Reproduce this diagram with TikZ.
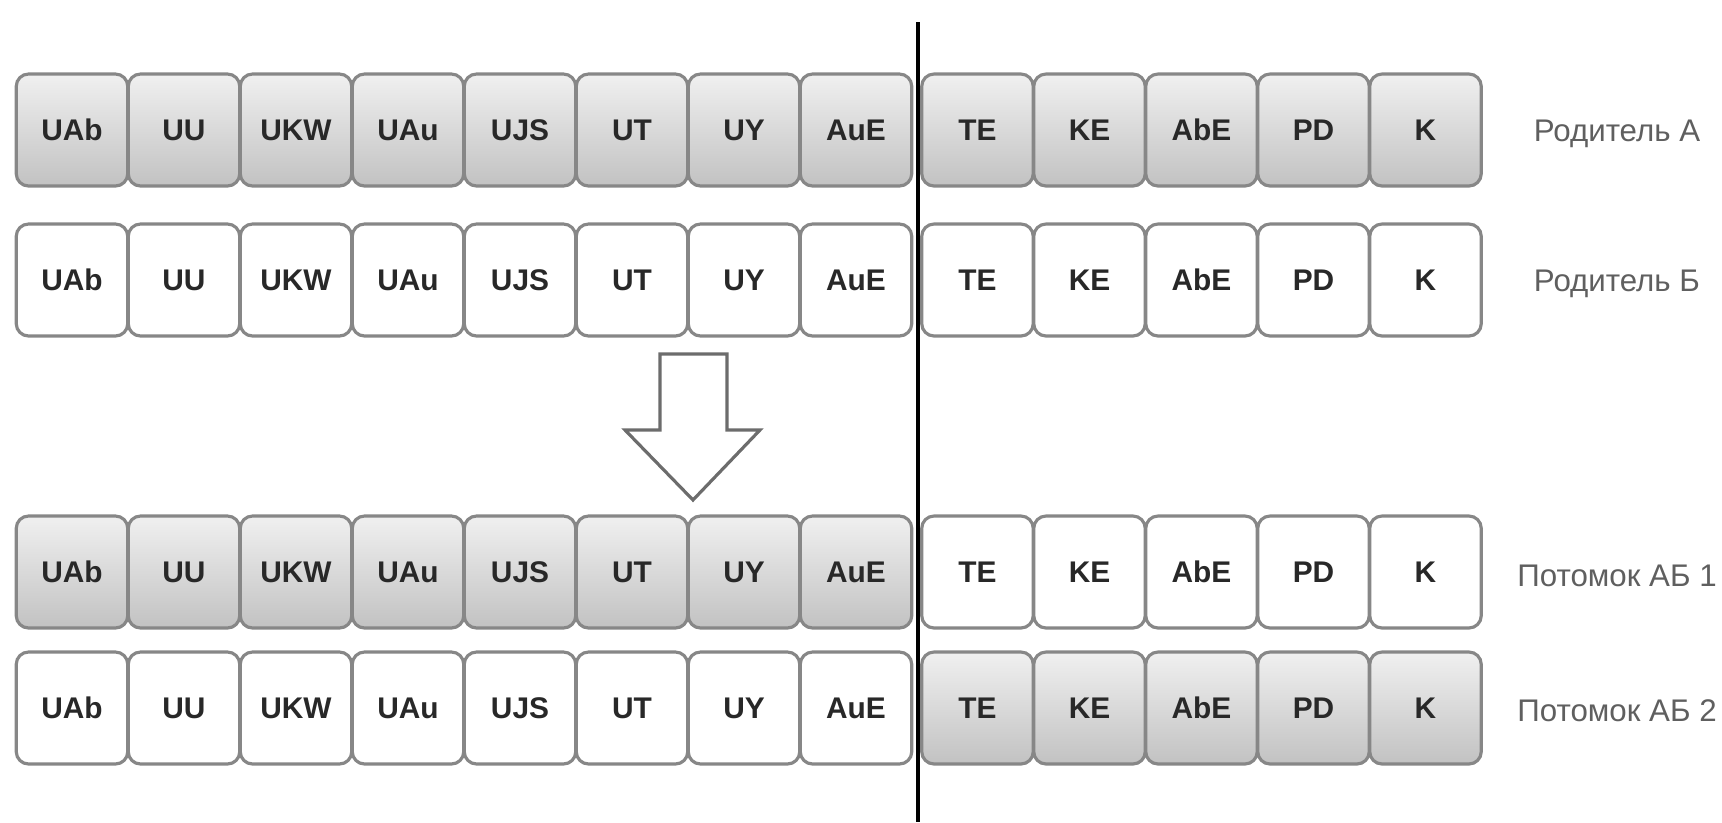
\documentclass[tikz,border=0pt]{standalone}
\usepackage{fontspec}
\setmainfont{Liberation Sans}
\usepackage{tikz}
\usetikzlibrary{positioning, calc}
\definecolor{cellline}{RGB}{135, 135, 135}
\definecolor{celltop}{RGB}{240, 240, 240}
\definecolor{cellbot}{RGB}{194, 194, 194}
\definecolor{gentext}{RGB}{40, 40, 40}
\definecolor{rowtext}{RGB}{95, 95, 95}

\tikzset{
  gene/.style={draw=cellline, line width=0.9pt, rounded corners=3.5pt, minimum width=1.115cm, minimum height=1.12cm, inner sep=0pt, text=gentext, font=\fontsize{8.5}{10}\selectfont\bfseries},
  geneA/.style={gene, top color=celltop, bottom color=cellbot},
  geneB/.style={gene, fill=white},
  rowlabel/.style={text=rowtext, font=\fontsize{8.9}{10}\selectfont}
}

\begin{document}
\begin{tikzpicture}
  \useasboundingbox (0,0) rectangle (17.22,-8.22);

  % Parent A
  \foreach \g [count=\i] in {UAb,UU,UKW,UAu,UJS,UT,UY,AuE}
    \node[geneA] (a\i) at ({0.72+1.12*(\i-1)}, -1.30) {\raisebox{-0.8pt}{\g}};
  \foreach \g [count=\i from 9] in {TE,KE,AbE,PD,K}
    \node[geneA] (a\i) at ({9.775+1.12*(\i-9)}, -1.30) {\raisebox{-0.8pt}{\g}};
  \node[rowlabel] (labA) at (16.17, -1.34) {Родитель А};

  % Parent B
  \foreach \g [count=\i] in {UAb,UU,UKW,UAu,UJS,UT,UY,AuE}
    \node[geneB] (b\i) at ({0.72+1.12*(\i-1)}, -2.80) {\raisebox{-0.8pt}{\g}};
  \foreach \g [count=\i from 9] in {TE,KE,AbE,PD,K}
    \node[geneB] (b\i) at ({9.775+1.12*(\i-9)}, -2.80) {\raisebox{-0.8pt}{\g}};
  \node[rowlabel] (labB) at (16.17, -2.84) {Родитель Б};

  % Crossover arrow
  \draw[cellline!80!black, line width=0.9pt, line join=miter, fill=white]
    (6.60,-3.54) -- (7.27,-3.54) -- (7.27,-4.30) -- (7.60,-4.30) -- (6.93,-5.00)
    -- (6.25,-4.30) -- (6.60,-4.30) -- cycle;

  % Child AB 1
  \foreach \g [count=\i] in {UAb,UU,UKW,UAu,UJS,UT,UY,AuE}
    \node[geneA] (c\i) at ({0.72+1.12*(\i-1)}, -5.72) {\raisebox{-0.8pt}{\g}};
  \foreach \g [count=\i from 9] in {TE,KE,AbE,PD,K}
    \node[geneB] (c\i) at ({9.775+1.12*(\i-9)}, -5.72) {\raisebox{-0.8pt}{\g}};
  \node[rowlabel] (labC) at (16.17, -5.76) {Потомок АБ 1};

  % Child AB 2
  \foreach \g [count=\i] in {UAb,UU,UKW,UAu,UJS,UT,UY,AuE}
    \node[geneB] (d\i) at ({0.72+1.12*(\i-1)}, -7.08) {\raisebox{-0.8pt}{\g}};
  \foreach \g [count=\i from 9] in {TE,KE,AbE,PD,K}
    \node[geneA] (d\i) at ({9.775+1.12*(\i-9)}, -7.08) {\raisebox{-0.8pt}{\g}};
  \node[rowlabel] (labD) at (16.17, -7.11) {Потомок АБ 2};

  % Cut point
  \coordinate (cuttop) at (9.18, -0.22);
  \coordinate (cutbot) at (9.18, -8.22);
  \draw[black, line width=1.4pt] (cuttop) -- (cutbot);
\end{tikzpicture}
\end{document}
